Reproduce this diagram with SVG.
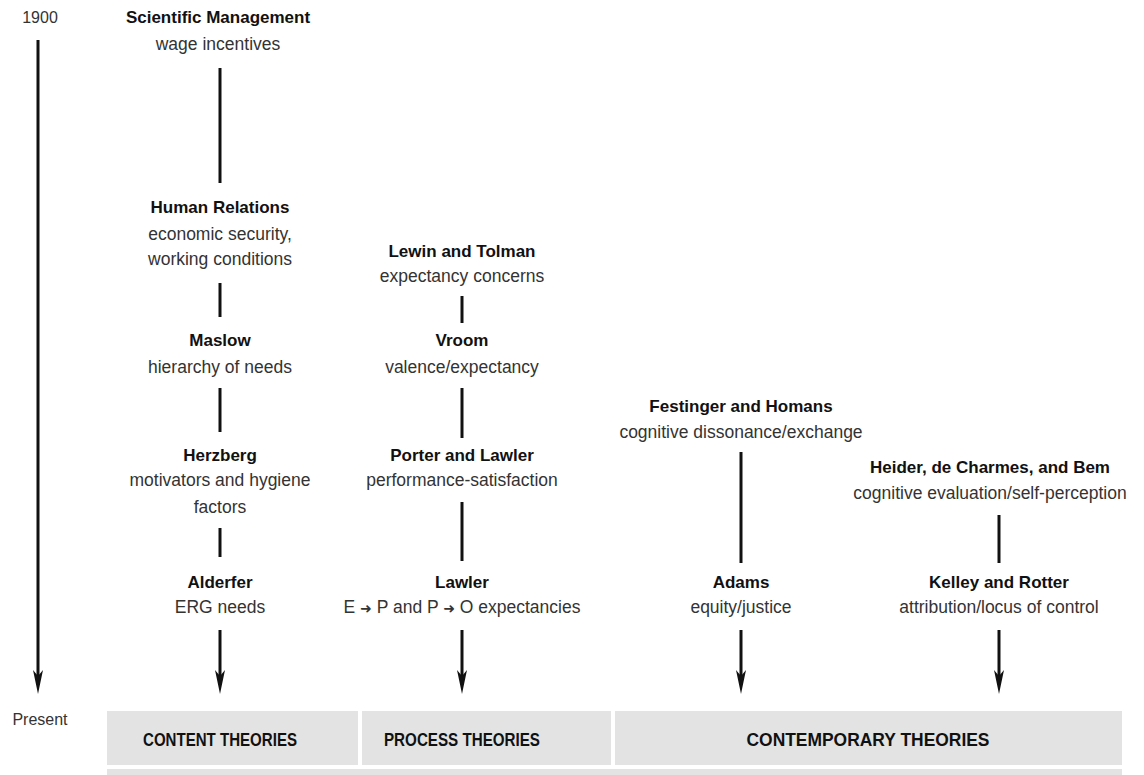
<svg xmlns="http://www.w3.org/2000/svg" width="1144" height="775" viewBox="0 0 1144 775">
<defs>
<style>
text{font-family:"Liberation Sans",Arial,sans-serif;fill:#222;text-anchor:middle}
.t{font-weight:bold;font-size:17px;fill:#111}
.s{font-size:17.5px;fill:#333}
.y{font-size:16px;fill:#333}
.b{font-weight:bold;font-size:18px;fill:#111}
.ar{stroke:#111;stroke-width:3;fill:none}
.ln{stroke:#111;stroke-width:3;fill:none}
.box{fill:#e3e3e3}
.hd{fill:#111}
</style>
<path id="head" d="M-5,-24 L0,-18 L5,-24 L0,0 Z"/>
</defs>
<rect width="1144" height="775" fill="#fff"/>
<g id="timeline">
<text class="y" x="40" y="23">1900</text>
<text class="y" x="40" y="725">Present</text>
</g>
<g id="connectors">
<line class="ar" x1="38" y1="40" x2="38" y2="678"/>
<use href="#head" x="38" y="694" class="hd"/>
<line class="ln" x1="220" y1="68" x2="220" y2="183"/>
<line class="ln" x1="220" y1="283" x2="220" y2="317"/>
<line class="ln" x1="220" y1="388" x2="220" y2="432"/>
<line class="ln" x1="220" y1="528" x2="220" y2="557"/>
<line class="ar" x1="220" y1="630" x2="220" y2="678"/>
<use href="#head" x="220" y="694" class="hd"/>
<line class="ln" x1="462" y1="296" x2="462" y2="323"/>
<line class="ln" x1="462" y1="388" x2="462" y2="438"/>
<line class="ln" x1="462" y1="502" x2="462" y2="561"/>
<line class="ar" x1="462" y1="630" x2="462" y2="678"/>
<use href="#head" x="462" y="694" class="hd"/>
<line class="ln" x1="741" y1="452" x2="741" y2="563"/>
<line class="ar" x1="741" y1="630" x2="741" y2="678"/>
<use href="#head" x="741" y="694" class="hd"/>
<line class="ln" x1="999" y1="515" x2="999" y2="563"/>
<line class="ar" x1="999" y1="630" x2="999" y2="678"/>
<use href="#head" x="999" y="694" class="hd"/>
</g>
<g id="scientific-management"><text class="t" x="218" y="23">Scientific Management</text><text class="s" x="218" y="50">wage incentives</text></g>
<g id="human-relations"><text class="t" x="220" y="213">Human Relations</text><text class="s" x="220" y="240">economic security,</text><text class="s" x="220" y="265">working conditions</text></g>
<g id="maslow"><text class="t" x="220" y="346">Maslow</text><text class="s" x="220" y="373">hierarchy of needs</text></g>
<g id="herzberg"><text class="t" x="220" y="461">Herzberg</text><text class="s" x="220" y="486">motivators and hygiene</text><text class="s" x="220" y="513">factors</text></g>
<g id="alderfer"><text class="t" x="220" y="588">Alderfer</text><text class="s" x="220" y="613">ERG needs</text></g>
<g id="lewin-tolman"><text class="t" x="462" y="257">Lewin and Tolman</text><text class="s" x="462" y="282">expectancy concerns</text></g>
<g id="vroom"><text class="t" x="462" y="346">Vroom</text><text class="s" x="462" y="373">valence/expectancy</text></g>
<g id="porter-lawler"><text class="t" x="462" y="461">Porter and Lawler</text><text class="s" x="462" y="486">performance-satisfaction</text></g>
<g id="lawler"><text class="t" x="462" y="588">Lawler</text><text class="s" x="462" y="613">E <tspan font-family="DejaVu Sans" font-size="14">➜</tspan> P and P <tspan font-family="DejaVu Sans" font-size="14">➜</tspan> O expectancies</text></g>
<g id="festinger-homans"><text class="t" x="741" y="412">Festinger and Homans</text><text class="s" x="741" y="438">cognitive dissonance/exchange</text></g>
<g id="adams"><text class="t" x="741" y="588">Adams</text><text class="s" x="741" y="613">equity/justice</text></g>
<g id="heider"><text class="t" x="990" y="473">Heider, de Charmes, and Bem</text><text class="s" x="990" y="499">cognitive evaluation/self-perception</text></g>
<g id="kelley-rotter"><text class="t" x="999" y="588">Kelley and Rotter</text><text class="s" x="999" y="613">attribution/locus of control</text></g>
<g id="content-theories"><rect class="box" x="107" y="711" width="251" height="54"/><text class="b" x="220" y="746" textLength="154" lengthAdjust="spacingAndGlyphs">CONTENT THEORIES</text></g>
<g id="process-theories"><rect class="box" x="362" y="711" width="249" height="54"/><text class="b" x="462" y="746" textLength="156" lengthAdjust="spacingAndGlyphs">PROCESS THEORIES</text></g>
<g id="contemporary-theories"><rect class="box" x="615" y="711" width="507" height="54"/><text class="b" x="868" y="746" textLength="243" lengthAdjust="spacingAndGlyphs">CONTEMPORARY THEORIES</text></g>
<g id="bottom-strip"><rect class="box" x="107" y="769" width="1015" height="6"/></g>
</svg>
